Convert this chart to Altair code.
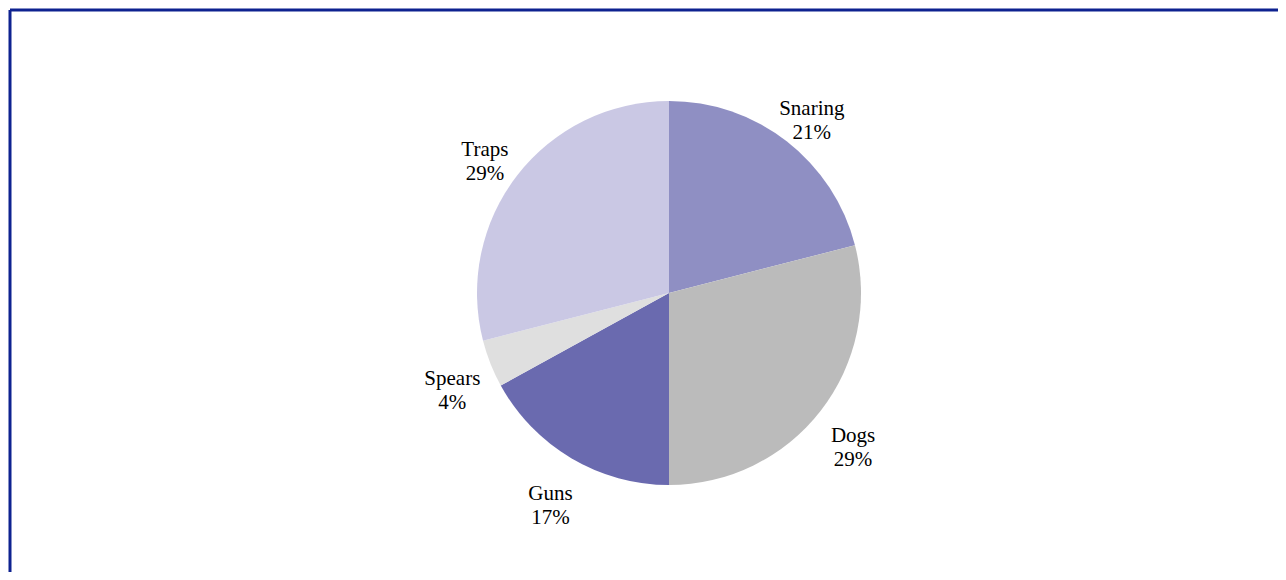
import altair as alt
import pandas as pd

categories = ["Snaring", "Dogs", "Guns", "Spears", "Traps"]
shares = [21, 29, 17, 4, 29]
colors = ["#8F8FC3", "#BBBBBB", "#6A6AAF", "#DFDFDF", "#CAC8E4"]

df = pd.DataFrame({
    "category": categories,
    "share": shares,
    "idx": list(range(len(categories))),
})
df["label"] = [f"{c}\n{s}%" for c, s in zip(categories, shares)]

cx, cy = 659, 283

base = alt.Chart(df).encode(
    theta=alt.Theta("share:Q", stack=True, scale=alt.Scale(domain=[0, 100])),
    order=alt.Order("idx:Q"),
)

pie = base.mark_arc(outerRadius=192).encode(
    color=alt.Color("category:N", scale=alt.Scale(domain=categories, range=colors), legend=None),
    x=alt.value(cx),
    y=alt.value(cy),
)

labels = base.mark_text(
    radius=233, font="Liberation Serif", fontSize=21, color="#000000",
    lineBreak="\n", lineHeight=24, align="center", baseline="middle",
).encode(
    text="label:N",
    x=alt.value(cx),
    y=alt.value(cy),
)

border_top = alt.Chart(df.head(1)).mark_rule(color="#0E2290", strokeWidth=3).encode(
    x=alt.value(0), x2=alt.value(1270), y=alt.value(0)
)
border_left = alt.Chart(df.head(1)).mark_rule(color="#0E2290", strokeWidth=3).encode(
    x=alt.value(0), y=alt.value(0), y2=alt.value(564)
)

chart = alt.layer(pie, labels, border_top, border_left).properties(
    width=1270, height=564,
    autosize=alt.AutoSizeParams(type="fit", contains="padding"),
    padding=0,
).configure_view(stroke=None)

chart.save("out.html", embed_options={"renderer": "svg", "actions": False})
